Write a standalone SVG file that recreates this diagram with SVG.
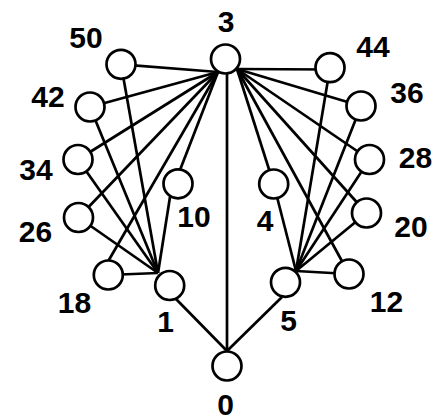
<svg xmlns="http://www.w3.org/2000/svg" width="438" height="420" viewBox="0 0 438 420">
  <style>
    .edge { stroke: #000; stroke-width: 2.7; fill: none; }
    .node circle { fill: #fff; stroke: #000; stroke-width: 2.7; }
    .node text { font-family: "Liberation Sans", Arial, sans-serif; font-weight: bold; font-size: 30px; fill: #000; text-anchor: middle; }
  </style>
  <rect width="438" height="420" fill="#fff"/>

  <!-- connectors (drawn first; node circles sit on top with white fill) -->
  <g id="edges" class="edge">
    <!-- from node 3, lower-left port -->
    <line x1="218" y1="72" x2="121" y2="64.3"/>
    <line x1="218" y1="72" x2="90" y2="107"/>
    <line x1="218" y1="72" x2="78" y2="159.5"/>
    <line x1="218" y1="72" x2="78.5" y2="217.5"/>
    <line x1="218" y1="72" x2="108.3" y2="261"/>
    <line x1="218" y1="72" x2="180" y2="170"/>
    <!-- node 3 straight down to node 0 -->
    <line x1="227" y1="73" x2="227" y2="351"/>
    <!-- from node 3, lower-right port -->
    <line x1="237" y1="69" x2="330" y2="69.5"/>
    <line x1="237" y1="69" x2="361" y2="106"/>
    <line x1="237" y1="69" x2="369.5" y2="159.5"/>
    <line x1="237" y1="69" x2="366.5" y2="213"/>
    <line x1="237" y1="69" x2="349" y2="274"/>
    <line x1="237" y1="69" x2="273.7" y2="184"/>
    <!-- into node 1, upper-left port -->
    <line x1="158" y1="273" x2="121" y2="64.3"/>
    <line x1="158" y1="273" x2="90" y2="107"/>
    <line x1="158" y1="273" x2="78" y2="159.5"/>
    <line x1="158" y1="273" x2="78.5" y2="217.5"/>
    <line x1="158" y1="273" x2="108.3" y2="275"/>
    <line x1="158" y1="273" x2="170" y2="197"/>
    <!-- into node 5, upper-right port -->
    <line x1="296" y1="271" x2="330" y2="67.7"/>
    <line x1="296" y1="271" x2="361" y2="106"/>
    <line x1="296" y1="271" x2="369.5" y2="159.5"/>
    <line x1="296" y1="271" x2="366.5" y2="213"/>
    <line x1="296" y1="271" x2="349" y2="274"/>
    <line x1="296" y1="271" x2="273.7" y2="184"/>
    <!-- nodes 1 and 5 down to node 0 -->
    <line x1="176" y1="299" x2="227" y2="351"/>
    <line x1="282" y1="297" x2="227" y2="351"/>
  </g>

  <!-- nodes -->
  <g id="n3" class="node"><circle cx="225.5" cy="59" r="14.5"/><text x="226" y="32">3</text></g>
  <g id="n50" class="node"><circle cx="121" cy="64.3" r="14.5"/><text x="86" y="48">50</text></g>
  <g id="n42" class="node"><circle cx="90" cy="107" r="14.5"/><text x="48" y="107">42</text></g>
  <g id="n34" class="node"><circle cx="78" cy="159.5" r="14.5"/><text x="36" y="180">34</text></g>
  <g id="n26" class="node"><circle cx="78.5" cy="217.5" r="14.5"/><text x="35.5" y="242">26</text></g>
  <g id="n18" class="node"><circle cx="108.3" cy="275" r="14.5"/><text x="74.5" y="313">18</text></g>
  <g id="n10" class="node"><circle cx="178" cy="183.8" r="14.5"/><text x="194" y="227">10</text></g>
  <g id="n1" class="node"><circle cx="169.7" cy="285.5" r="14.5"/><text x="165.5" y="332">1</text></g>
  <g id="n0" class="node"><circle cx="227" cy="366" r="14.5"/><text x="225.5" y="415">0</text></g>
  <g id="n5" class="node"><circle cx="285.5" cy="282.3" r="14.5"/><text x="288.5" y="331">5</text></g>
  <g id="n12" class="node"><circle cx="349" cy="274" r="14.5"/><text x="386.5" y="312">12</text></g>
  <g id="n20" class="node"><circle cx="366.5" cy="213" r="14.5"/><text x="411" y="237">20</text></g>
  <g id="n28" class="node"><circle cx="369.5" cy="159.5" r="14.5"/><text x="415.5" y="168">28</text></g>
  <g id="n36" class="node"><circle cx="361" cy="106" r="14.5"/><text x="407" y="103">36</text></g>
  <g id="n44" class="node"><circle cx="330" cy="67.7" r="14.5"/><text x="373" y="57">44</text></g>
  <g id="n4" class="node"><circle cx="273.7" cy="184" r="14.5"/><text x="265" y="231">4</text></g>
</svg>
